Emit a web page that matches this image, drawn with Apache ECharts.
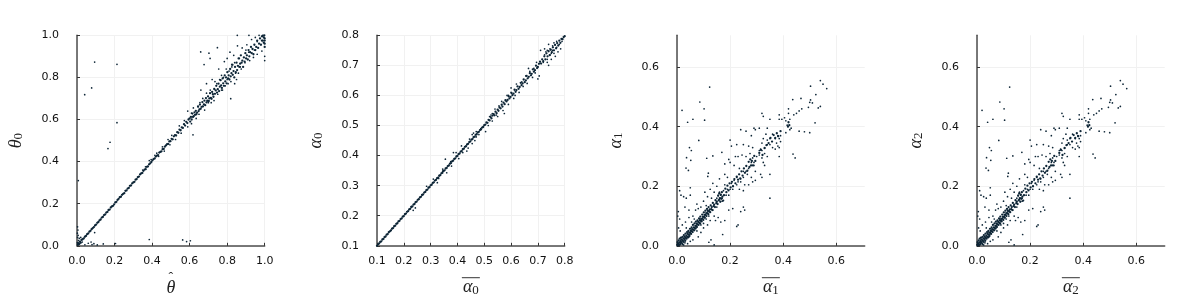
<!DOCTYPE html>
<html><head><meta charset="utf-8">
<style>html,body{margin:0;padding:0;background:#fff}#c{width:1200px;height:300px}</style>
<script src="https://cdn.jsdelivr.net/npm/echarts@6/dist/echarts.min.js"></script></head>
<body><div id="c"></div>
<script>
const theta0Line = [[.004,.006],[.008,.012],[.012,.008],[.016,.02],[.02,.015],[.024,.028],[.03,.031],[.036,.035],[.042,.043],[.048,.047],[.054,.055],[.06,.059],[.066,.067],[.072,.071],[.078,.079],[.084,.084],[.09,.089],[.096,.097],[.102,.101],[.108,.109],[.114,.113],[.12,.121],[.126,.125],[.132,.134],[.138,.137],[.144,.146],[.15,.149],[.156,.158],[.162,.161],[.168,.17],[.174,.172],[.18,.182],[.186,.187],[.192,.19],[.198,.197],[.204,.206],[.21,.209],[.216,.218],[.222,.223],[.228,.231],[.234,.233],[.24,.242],[.246,.247],[.252,.25],[.258,.261],[.264,.263],[.27,.272],[.276,.275],[.282,.285],[.288,.287],[.294,.297],[.3,.301],[.306,.304],[.312,.314],[.318,.317],[.324,.326],[.33,.329],[.336,.339],[.342,.344],[.348,.346],[.354,.356],[.36,.362],[.366,.364],[.372,.375],[.378,.377],[.384,.387],[.39,.392],[.396,.398],[.402,.406],[.408,.412],[.414,.415],[.42,.424],[.426,.428],[.432,.431],[.438,.443],[.444,.446],[.45,.449],[.456,.459],[.462,.46],[.468,.471],[.474,.477],[.48,.483],[.486,.484],[.492,.496],[.498,.497],[.504,.508],[.51,.506],[.516,.52],[.522,.526],[.528,.524],[.534,.54],[.54,.537],[.546,.552],[.552,.549],[.558,.563],[.564,.56],[.57,.578],[.576,.571],[.582,.589],[.588,.583],[.594,.6],[.6,.605],[.603,.59],[.607,.612],[.611,.6],[.615,.628],[.618,.612],[.622,.616],[.626,.634],[.629,.622],[.633,.641],[.636,.625],[.64,.633],[.645,.662],[.648,.64],[.652,.648],[.655,.671],[.659,.651],[.664,.66],[.668,.683],[.671,.662],[.676,.672],[.679,.69],[.683,.668],[.687,.702],[.69,.681],[.694,.689],[.698,.71],[.702,.688],[.705,.7],[.709,.725],[.713,.703],[.717,.698],[.72,.731],[.724,.72],[.727,.708],[.731,.745],[.735,.722],[.739,.738],[.742,.76],[.746,.728],[.75,.744],[.754,.77],[.757,.735],[.761,.756],[.765,.787],[.768,.762],[.772,.75],[.776,.795],[.779,.772],[.783,.76],[.787,.81],[.79,.781],[.794,.8],[.797,.772],[.801,.825],[.805,.795],[.808,.81],[.812,.79],[.816,.84],[.819,.805],[.823,.82],[.826,.86],[.83,.812],[.834,.83],[.838,.8],[.842,.85],[.846,.825],[.85,.87],[.853,.835],[.857,.855],[.861,.89],[.865,.85],[.869,.865],[.873,.905],[.877,.87],[.881,.88],[.885,.85],[.889,.895],[.893,.875],[.897,.915],[.901,.89],[.905,.905],[.91,.885],[.914,.93],[.918,.9],[.922,.92],[.927,.945],[.931,.915],[.935,.935],[.94,.91],[.945,.955],[.95,.93],[.955,.945],[.96,.975],[.965,.94],[.97,.96],[.975,.985],[.98,.955],[.985,.975],[.99,.998],[.995,.965],[1,.985],[1,.96],[1,.945],[.998,1],[.99,.975],[.985,.995],[.995,.99],[1,.975]];
const theta0Scatter = [[.094,.873],[.213,.862],[.041,.718],[.078,.75],[.213,.585],[.176,.492],[.165,.462],[.007,.31],[.094,.063],[.385,.03],[.563,.028],[.604,.024],[.584,.02],[.819,.699],[.618,.527],[.854,1],[.916,1],[.659,.921],[.748,.941],[.703,.915],[.709,.89],[.677,.861],[.003,.09],[.005,.075],[.002,.06],[.006,.05],[.003,.04],[.012,.035],[.02,.04],[.028,.018],[.008,.025],[.015,.012],[.042,.005],[.06,.012],[.075,.018],[.08,.006],[.09,.01],[.108,.004],[.14,.009],[.205,.011],[.002,.015],[.006,.004],[.35,.36],[.365,.375],[.385,.405],[.395,.41],[.415,.43],[.425,.44],[.435,.425],[.455,.47],[.465,.45],[.485,.505],[.495,.48],[.505,.525],[.525,.505],[.545,.57],[.555,.535],[.572,.595],[.59,.565],[.59,.64],[.61,.58],[.635,.605],[.62,.655],[.65,.625],[.655,.68],[.68,.645],[.66,.74],[.69,.725],[.69,.77],[.715,.68],[.72,.79],[.73,.69],[.745,.77],[.75,.72],[.775,.74],[.755,.84],[.77,.81],[.785,.875],[.79,.76],[.795,.84],[.8,.89],[.82,.78],[.815,.92],[.84,.77],[.83,.86],[.85,.79],[.835,.905],[.855,.95],[.86,.82],[.865,.89],[.875,.84],[.88,.94],[.895,.87],[.905,.955],[.92,.88],[.93,.98],[.94,.895],[.95,.99],[.96,.91],[.97,1],[.985,.925],[1,.9],[1,.88],[.81,.83],[.8,.79],[.78,.8],[.76,.79],[.77,.74],[.735,.78],[.71,.74],[.7,.68],[.67,.7],[.645,.66],[.61,.63],[.84,.87],[.87,.85],[.845,.82],[.825,.85],[.805,.77],[.9,.93],[.915,.92],[.945,.93],[.96,.97]];
const alpha0Line = [[.1,.1],[.104,.105],[.108,.108],[.112,.113],[.116,.115],[.12,.121],[.124,.123],[.128,.129],[.132,.131],[.136,.137],[.14,.139],[.144,.145],[.148,.148],[.152,.151],[.156,.157],[.16,.159],[.164,.165],[.168,.167],[.172,.173],[.176,.175],[.18,.181],[.184,.183],[.188,.189],[.192,.191],[.196,.197],[.2,.199],[.204,.205],[.208,.207],[.212,.213],[.216,.215],[.22,.221],[.224,.223],[.228,.229],[.232,.231],[.236,.237],[.24,.239],[.244,.245],[.248,.247],[.252,.253],[.256,.255],[.26,.261],[.264,.263],[.268,.269],[.272,.271],[.276,.277],[.28,.279],[.284,.285],[.288,.287],[.292,.293],[.296,.295],[.3,.301],[.304,.303],[.308,.309],[.312,.311],[.316,.317],[.32,.319],[.324,.325],[.328,.327],[.332,.333],[.336,.335],[.34,.341],[.344,.343],[.348,.349],[.352,.351],[.356,.357],[.36,.359],[.364,.365],[.368,.367],[.372,.373],[.376,.375],[.38,.381],[.384,.383],[.388,.389],[.392,.391],[.396,.397],[.4,.399],[.404,.405],[.408,.407],[.412,.413],[.416,.415],[.42,.421],[.424,.423],[.428,.429],[.432,.431],[.436,.437],[.44,.439],[.444,.445],[.448,.447],[.452,.453],[.456,.455],[.46,.461],[.464,.463],[.468,.469],[.472,.471],[.476,.477],[.48,.479],[.484,.485],[.488,.487],[.492,.493],[.496,.495],[.5,.501],[.504,.503],[.508,.51],[.512,.509],[.516,.519],[.52,.517],[.524,.528],[.527,.524],[.531,.533],[.535,.538],[.538,.534],[.542,.546],[.546,.541],[.55,.553],[.553,.549],[.557,.56],[.561,.557],[.565,.569],[.568,.563],[.572,.576],[.576,.571],[.579,.584],[.583,.58],[.587,.585],[.591,.597],[.594,.59],[.598,.595],[.602,.608],[.605,.601],[.609,.606],[.613,.619],[.617,.612],[.62,.618],[.624,.63],[.628,.622],[.632,.628],[.636,.642],[.639,.634],[.643,.64],[.647,.653],[.651,.644],[.655,.65],[.658,.665],[.662,.657],[.666,.662],[.67,.674],[.674,.667],[.677,.672],[.681,.687],[.685,.679],[.689,.684],[.693,.699],[.697,.691],[.7,.695],[.704,.705],[.708,.712],[.712,.706],[.716,.72],[.72,.714],[.724,.73],[.728,.72],[.732,.74],[.736,.73],[.74,.747],[.744,.734],[.748,.752],[.752,.744],[.756,.76],[.76,.75],[.764,.768],[.768,.757],[.772,.774],[.776,.766],[.78,.782],[.784,.775],[.788,.788],[.792,.787],[.796,.794],[.8,.797]];
const alpha0Scatter = [[.355,.388],[.228,.23],[.235,.218],[.243,.226],[.285,.298],[.31,.322],[.325,.31],[.33,.324],[.345,.348],[.36,.343],[.378,.365],[.385,.41],[.395,.41],[.415,.432],[.42,.41],[.435,.415],[.445,.455],[.455,.44],[.47,.48],[.47,.462],[.48,.47],[.487,.49],[.505,.48],[.515,.5],[.52,.53],[.53,.515],[.53,.54],[.54,.555],[.55,.53],[.565,.58],[.57,.55],[.575,.54],[.59,.6],[.59,.57],[.6,.625],[.61,.59],[.615,.6],[.62,.638],[.63,.61],[.64,.645],[.645,.63],[.655,.665],[.665,.69],[.66,.64],[.67,.68],[.68,.66],[.685,.69],[.69,.675],[.695,.71],[.7,.655],[.705,.665],[.71,.75],[.725,.755],[.735,.75],[.74,.77],[.72,.71],[.725,.735],[.735,.72],[.74,.7],[.745,.735],[.75,.72],[.755,.765],[.76,.74],[.76,.775],[.765,.73],[.77,.76],[.775,.745],[.78,.77],[.785,.755],[.79,.78],[.745,.755],[.735,.71],[.75,.74],[.755,.75],[.73,.745],[.77,.78],[.6,.61],[.585,.6],[.555,.565],[.545,.535],[.525,.535],[.455,.47],[.465,.45],[.46,.475],[.405,.39],[.44,.425],[.375,.38],[.345,.355]];
const alpha1Line = [[.001,.004],[.002,.012],[.003,.001],[.005,.007],[.006,.018],[.007,.002],[.009,.011],[.01,.024],[.011,.004],[.013,.016],[.014,.009],[.015,.027],[.017,.012],[.018,.021],[.02,.006],[.021,.03],[.022,.017],[.024,.025],[.025,.013],[.026,.036],[.028,.022],[.029,.03],[.031,.017],[.032,.041],[.033,.027],[.035,.034],[.036,.024],[.038,.046],[.039,.031],[.04,.04],[.042,.028],[.043,.05],[.045,.037],[.046,.044],[.047,.033],[.049,.057],[.05,.043],[.052,.05],[.053,.04],[.055,.062],[.056,.049],[.057,.056],[.059,.046],[.06,.07],[.062,.054],[.063,.062],[.065,.052],[.066,.075],[.067,.06],[.069,.067],[.07,.058],[.071,.081],[.073,.066],[.074,.074],[.075,.063],[.077,.085],[.078,.072],[.08,.08],[.081,.07],[.083,.092],[.084,.078],[.086,.086],[.087,.075],[.088,.098],[.09,.084],[.091,.09],[.093,.082],[.095,.105],[.096,.091],[.098,.097],[.099,.087],[.101,.112],[.102,.098],[.104,.104],[.105,.094],[.107,.118],[.108,.104],[.11,.11],[.111,.1],[.113,.124],[.115,.11],[.116,.117],[.118,.106],[.119,.13],[.121,.116],[.123,.122],[.125,.113],[.127,.136],[.129,.123],[.131,.13],[.133,.12],[.135,.144],[.138,.133],[.14,.138],[.143,.13],[.145,.153],[.148,.143],[.15,.148],[.153,.14],[.155,.168],[.157,.153],[.159,.176],[.161,.16],[.163,.148],[.165,.172],[.167,.158],[.169,.18],[.171,.165],[.174,.152],[.177,.17],[.182,.192],[.186,.18],[.19,.202],[.194,.186],[.198,.21],[.202,.196],[.207,.215],[.211,.2],[.216,.224],[.22,.21],[.225,.232],[.23,.222],[.234,.24],[.238,.226],[.243,.25],[.247,.236],[.252,.26],[.256,.245],[.261,.268],[.265,.252],[.27,.282],[.273,.265],[.276,.29],[.279,.27],[.282,.285],[.286,.27],[.291,.302],[.295,.285],[.31,.312],[.316,.322],[.322,.305],[.33,.328],[.337,.338],[.345,.345],[.352,.362],[.358,.35],[.364,.372],[.37,.362],[.376,.378],[.381,.368],[.39,.385],[.42,.415],[.423,.405],[.418,.4]];
const alpha1Scatter = [[.54,.555],[.55,.543],[.564,.528],[.503,.536],[.523,.508],[.467,.495],[.436,.491],[.123,.533],[.086,.483],[.019,.455],[.102,.46],[.104,.422],[.06,.425],[.04,.415],[.082,.354],[.047,.33],[.054,.32],[.036,.296],[.052,.287],[.034,.261],[.043,.253],[.112,.294],[.135,.302],[.118,.244],[.116,.233],[.169,.314],[.503,.49],[.5,.482],[.51,.48],[.495,.465],[.54,.468],[.532,.463],[.52,.413],[.5,.38],[.48,.383],[.46,.385],[.445,.295],[.437,.308],[.42,.46],[.42,.445],[.44,.44],[.45,.445],[.46,.453],[.47,.46],[.385,.44],[.395,.425],[.405,.43],[.41,.42],[.385,.425],[.35,.425],[.32,.445],[.325,.435],[.24,.39],[.26,.385],[.29,.395],[.295,.39],[.31,.395],[.34,.395],[.28,.37],[.25,.34],[.225,.34],[.2,.355],[.205,.335],[.27,.335],[.285,.33],[.325,.36],[.32,.345],[.335,.375],[.34,.355],[.35,.34],[.36,.33],[.37,.325],[.38,.335],[.385,.3],[.385,.33],[.375,.345],[.39,.37],[.41,.38],[.425,.39],[.315,.325],[.33,.31],[.34,.3],[.32,.295],[.31,.305],[.325,.28],[.33,.27],[.35,.24],[.35,.16],[.315,.24],[.32,.23],[.29,.27],[.295,.25],[.275,.31],[.26,.3],[.245,.305],[.23,.3],[.22,.3],[.195,.29],[.2,.28],[.18,.275],[.215,.27],[.235,.26],[.25,.25],[.265,.24],[.28,.23],[.285,.215],[.295,.22],[.27,.205],[.255,.205],[.24,.215],[.225,.205],[.235,.19],[.25,.185],[.21,.19],[.195,.17],[.18,.205],[.19,.23],[.18,.24],[.16,.225],[.15,.2],[.135,.21],[.125,.19],[.115,.165],[.105,.18],[.1,.15],[.08,.125],[.075,.14],[.05,.17],[.05,.195],[.01,.185],[.015,.17],[.025,.165],[.035,.16],[.005,.115],[.003,.1],[.01,.09],[.03,.13],[.045,.12],[.06,.1],[.07,.12],[.09,.13],[.11,.135],[.13,.16],[.14,.18],[.16,.18],[.165,.17],[.17,.16],[.16,.155],[.17,.15],[.15,.13],[.14,.1],[.125,.085],[.145,.085],[.155,.095],[.165,.08],[.18,.085],[.195,.12],[.21,.125],[.25,.13],[.255,.12],[.24,.115],[.225,.065],[.23,.07],[.172,.038],[.128,.02],[.14,.003],[.12,.012],[.08,.03],[.09,.045],[.1,.06],[.115,.07],[.075,.05],[.06,.02],[.05,.015],[.045,.03],[.03,.01],[.04,.007],[.025,.003],[.015,.02],[.012,.05],[.006,.06],[.02,.07],[.032,.08],[.045,.095],[.035,.06],[.055,.08],[.065,.09],[.09,.07],[.1,.075],[.11,.09],[.12,.1],[.135,.12],[.15,.16],[.155,.17],[.165,.16],[.175,.185],[.185,.17],[.19,.19],[.2,.19],[.205,.21],[.215,.22],[.225,.23],[.23,.215],[.24,.225],[.25,.23],[.26,.25],[.27,.26],[.28,.28],[.285,.295],[.29,.28],[.3,.3],[.31,.32],[.32,.32],[.33,.33],[.34,.34],[.35,.36],[.36,.375],[.37,.36],[.38,.37],[.385,.36],[.39,.35],[.425,.425],[.415,.405],[.43,.395]];
const alpha2Line = alpha1Line;
const alpha2Scatter = alpha1Scatter;

const panels = [
 {left:77, lo:0, hi:1, ticks:[0,.2,.4,.6,.8,1], pts:[theta0Line,theta0Scatter], xn:'{h|ˆ}\n{m|θ}', yn:'{m|θ}{s|0}'},
 {left:377, lo:.1, hi:.8, ticks:[.1,.2,.3,.4,.5,.6,.7,.8], pts:[alpha0Line,alpha0Scatter], xn:'{bar|}\n{m|α}{s|0}', yn:'{m|α}{s|0}'},
 {left:677, lo:0, hi:.707, ticks:[0,.2,.4,.6], pts:[alpha1Line,alpha1Scatter], xn:'{bar|}\n{m|α}{s|1}', yn:'{m|α}{s|1}'},
 {left:977, lo:0, hi:.707, ticks:[0,.2,.4,.6], pts:[alpha2Line,alpha2Scatter], xn:'{bar|}\n{m|α}{s|2}', yn:'{m|α}{s|2}'}
];
const rich = {
 m:{fontFamily:'Liberation Serif',fontStyle:'italic',fontSize:18,color:'#222',lineHeight:11,verticalAlign:'top'},
 s:{fontFamily:'Liberation Serif',fontSize:13,color:'#222',verticalAlign:'bottom',lineHeight:18},
 h:{fontFamily:'Liberation Serif',fontSize:14,color:'#222',lineHeight:1},
 bar:{width:18,height:1,backgroundColor:'#333',lineHeight:2}
};
const axis = (p,pos,i,name,gap)=>({
 type:'value', gridIndex:i, position:pos, min:p.lo, max:p.hi,
 name, nameLocation:'middle', nameGap:gap, nameTextStyle:{rich},
 axisLine:{show:true,onZero:false,lineStyle:{color:'#4d4d4d',width:1.5}},
 axisTick:{show:true,inside:true,length:3,customValues:p.ticks,lineStyle:{color:'#333',width:1}},
 axisLabel:{customValues:p.ticks,margin:pos==='left'?18:10,fontFamily:'DejaVu Sans',fontSize:11,color:'#111',formatter:v=>v.toFixed(1),hideOverlap:false},
 splitLine:{show:true,lineStyle:{color:'#f1f1f1',width:1}}
});
const grid=[],xAxis=[],yAxis=[],series=[];
panels.forEach((p,i)=>{
 grid.push({left:p.left,top:35.3,width:187.7,height:210.5,outerBoundsMode:'none',containLabel:false});
 xAxis.push(axis(p,'bottom',i,p.xn,i===0?32:27));
 yAxis.push(axis(p,'left',i,p.yn,52));
 p.pts.forEach((d,k)=>series.push({type:'scatter',xAxisIndex:i,yAxisIndex:i,data:d,symbol:'circle',symbolSize:k===0?2.3:1.7,clip:false,silent:true,
  itemStyle:{color:'#0d2536',opacity:1}}));
});
const chart=echarts.init(document.getElementById('c'),null,{renderer:'canvas'});
chart.setOption({animation:false,backgroundColor:'#fff',grid,xAxis,yAxis,series});
</script></body></html>
